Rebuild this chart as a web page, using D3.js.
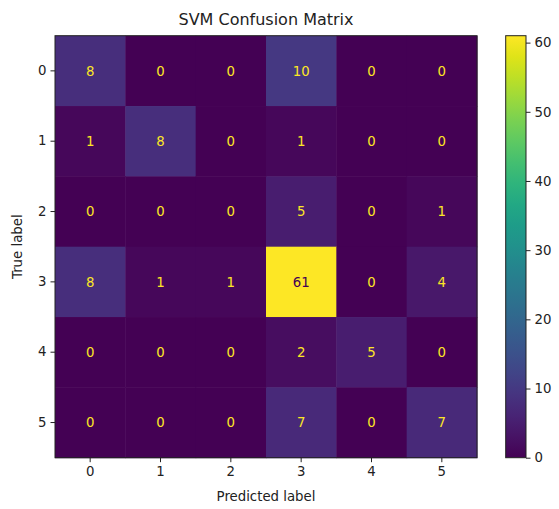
<!DOCTYPE html>
<meta charset="utf-8">
<head>
<style>
  body { margin: 0; background: #fff; }
  text { font-family: "DejaVu Sans", sans-serif; }
</style>
</head>
<script src="https://cdn.jsdelivr.net/npm/d3@7"></script>
<body>
  <div id="my_dataviz"></div>
</body>
<script>
    // class labels and confusion counts (rows = true, cols = predicted)
    var labels = ["0", "1", "2", "3", "4", "5"];
    var counts = [
      [8, 0, 0, 10, 0, 0],
      [1, 8, 0, 1, 0, 0],
      [0, 0, 0, 5, 0, 1],
      [8, 1, 1, 61, 0, 4],
      [0, 0, 0, 2, 5, 0],
      [0, 0, 0, 7, 0, 7]
    ];
    var cbarTicks = [0, 10, 20, 30, 40, 50, 60];

    var margin = {top: 35.7, left: 55},
        size = 422;

    var svg = d3.select("#my_dataviz")
      .append("svg")
        .attr("width", 559)
        .attr("height", 509);

    var g = svg.append("g")
        .attr("transform", "translate(" + margin.left + "," + margin.top + ")");

    var vmax = d3.max(counts, function(r) { return d3.max(r); });
    var color = d3.scaleSequential(d3.interpolateViridis).domain([0, vmax]);

    var x = d3.scaleBand().domain(labels).range([0, size]);
    var y = d3.scaleBand().domain(labels).range([0, size]);

    var cells = [];
    counts.forEach(function(row, i) {
      row.forEach(function(v, j) { cells.push({r: labels[i], c: labels[j], v: v}); });
    });

    g.selectAll("rect.cell")
      .data(cells)
      .enter()
      .append("rect")
        .attr("class", "cell")
        .attr("x", function(d) { return x(d.c); })
        .attr("y", function(d) { return y(d.r); })
        .attr("width", x.bandwidth() + 0.5)
        .attr("height", y.bandwidth() + 0.5)
        .style("fill", function(d) { return color(d.v); });

    g.selectAll("text.val")
      .data(cells)
      .enter()
      .append("text")
        .attr("x", function(d) { return x(d.c) + x.bandwidth() / 2; })
        .attr("y", function(d) { return y(d.r) + y.bandwidth() / 2; })
        .attr("dy", "0.35em")
        .style("text-anchor", "middle")
        .style("font-size", "13.3px")
        .style("fill", function(d) { return d.v > vmax / 2 ? color(0) : color(vmax); })
        .text(function(d) { return d.v; });

    g.append("rect")
      .attr("width", size).attr("height", size)
      .style("fill", "none").style("stroke", "#222").style("stroke-width", 1);

    var xAxis = g.append("g")
      .attr("transform", "translate(0," + size + ")")
      .call(d3.axisBottom(x).tickSize(4.5).tickPadding(4));
    var yAxis = g.append("g")
      .call(d3.axisLeft(y).tickSize(4.5).tickPadding(4));
    [xAxis, yAxis].forEach(function(a) {
      a.select(".domain").remove();
      a.selectAll("text").style("font-size", "13.3px").style("font-family", "DejaVu Sans").style("fill", "#222");
      a.selectAll("line").style("stroke", "#222");
    });

    svg.append("text")
      .attr("x", margin.left + size / 2)
      .attr("y", 501)
      .style("text-anchor", "middle")
      .style("font-size", "13.3px")
      .style("fill", "#222")
      .text("Predicted label");

    svg.append("text")
      .attr("transform", "translate(22," + (margin.top + size / 2) + ") rotate(-90)")
      .style("text-anchor", "middle")
      .style("font-size", "13.3px")
      .style("fill", "#222")
      .text("True label");

    svg.append("text")
      .attr("x", margin.left + size / 2)
      .attr("y", 25)
      .style("text-anchor", "middle")
      .style("font-size", "16px")
      .style("fill", "#222")
      .text("SVM Confusion Matrix");

    // colorbar
    var cbX = 505.7, cbW = 20.3;
    var grad = svg.append("defs").append("linearGradient")
      .attr("id", "vgrad").attr("x1", 0).attr("y1", 1).attr("x2", 0).attr("y2", 0);
    d3.range(0, 1.0001, 0.05).forEach(function(t) {
      grad.append("stop").attr("offset", t).attr("stop-color", d3.interpolateViridis(t));
    });
    svg.append("rect")
      .attr("x", cbX).attr("y", margin.top)
      .attr("width", cbW).attr("height", size)
      .style("fill", "url(#vgrad)")
      .style("stroke", "#222").style("stroke-width", 1);

    var cy = d3.scaleLinear().domain([0, vmax]).range([margin.top + size, margin.top]);
    var cbAxis = svg.append("g")
      .attr("transform", "translate(" + (cbX + cbW) + ",0)")
      .call(d3.axisRight(cy).tickValues(cbarTicks).tickSize(4.5).tickPadding(4));
    cbAxis.select(".domain").remove();
    cbAxis.selectAll("text").style("font-size", "13.3px").style("font-family", "DejaVu Sans").style("fill", "#222");
    cbAxis.selectAll("line").style("stroke", "#222");
</script>
